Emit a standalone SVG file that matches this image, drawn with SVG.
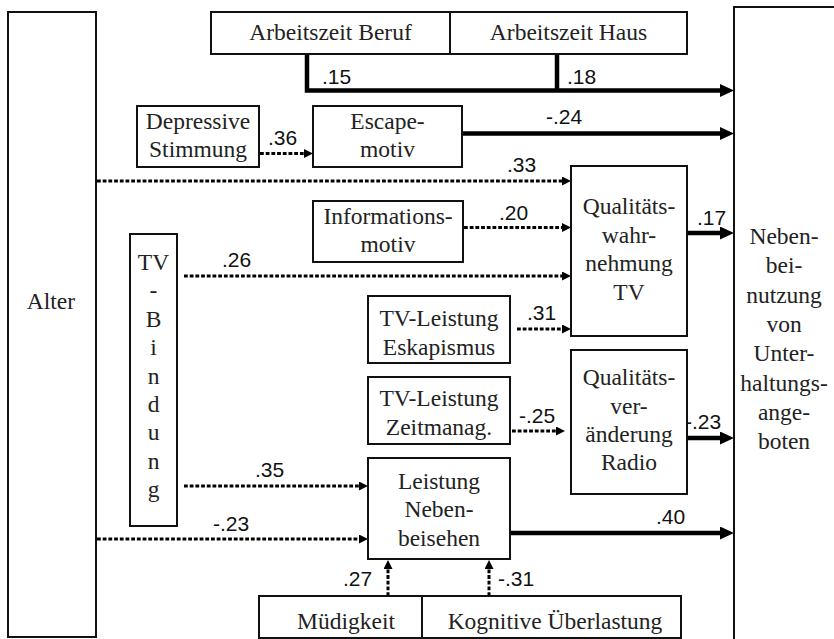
<svg xmlns="http://www.w3.org/2000/svg" width="834" height="639" viewBox="0 0 834 639">
<style>
.box{fill:#fff;stroke:#111;stroke-width:2}
.t{font-family:"Liberation Serif","Times New Roman",serif;font-size:23.5px;fill:#222;text-anchor:middle}
.n{font-family:"Liberation Sans",Arial,sans-serif;font-size:21px;fill:#111}
.thick{fill:none;stroke:#000;stroke-width:4.5;stroke-linejoin:miter}
.dot{fill:none;stroke:#000;stroke-width:3;stroke-dasharray:3.8 1.9}
</style>
<defs>
<marker id="ah" markerUnits="userSpaceOnUse" markerWidth="15" markerHeight="14" refX="1" refY="6.5" orient="auto"><path d="M0,0 L14,6.5 L0,13 z" fill="#000"/></marker>
<marker id="ad" markerUnits="userSpaceOnUse" markerWidth="10" markerHeight="10" refX="1" refY="4.5" orient="auto"><path d="M0,0 L9,4.5 L0,9 z" fill="#000"/></marker>
</defs>
<rect width="834" height="639" fill="#fff"/>

<g id="connectors">
<path class="thick" d="M307,54 V90.5 H721" marker-end="url(#ah)"/>
<path class="thick" d="M557,54 V90.5"/>
<path class="thick" d="M462,133.5 H721" marker-end="url(#ah)"/>
<path class="thick" d="M688,233 H721" marker-end="url(#ah)"/>
<path class="thick" d="M688,438 H721" marker-end="url(#ah)"/>
<path class="thick" d="M511,533 H721" marker-end="url(#ah)"/>
<path class="dot" d="M260,153.5 H305" marker-end="url(#ad)"/>
<path class="dot" d="M97,181 H563" marker-end="url(#ad)"/>
<path class="dot" d="M464,227.5 H563" marker-end="url(#ad)"/>
<path class="dot" d="M184,276 H563" marker-end="url(#ad)"/>
<path class="dot" d="M517,329 H563" marker-end="url(#ad)"/>
<path class="dot" d="M512,431 H557" marker-end="url(#ad)"/>
<path class="dot" d="M184,486 H360" marker-end="url(#ad)"/>
<path class="dot" d="M97,539 H360" marker-end="url(#ad)"/>
<path class="dot" d="M388,596 V568" marker-end="url(#ad)"/>
<path class="dot" d="M489,596 V568" marker-end="url(#ad)"/>
<text class="n" x="322" y="83.5">.15</text>
<text class="n" x="567" y="83.5">.18</text>
<text class="n" x="268" y="145">.36</text>
<text class="n" x="546" y="123.5">-.24</text>
<text class="n" x="507" y="172">.33</text>
<text class="n" x="499" y="219.5">.20</text>
<text class="n" x="222" y="266.5">.26</text>
<text class="n" x="527" y="320">.31</text>
<text class="n" x="519" y="423">-.25</text>
<text class="n" x="697" y="225">.17</text>
<rect x="685" y="412" width="41" height="19" fill="#fff"/>
<text class="n" x="685" y="428.5">-.23</text>
<text class="n" x="255" y="477">.35</text>
<text class="n" x="213" y="531">-.23</text>
<text class="n" x="656" y="523.5">.40</text>
<text class="n" x="343" y="585.5">.27</text>
<text class="n" x="498" y="585.5">-.31</text>
</g>

<g id="alter"><rect class="box" x="8" y="12" width="88" height="625"/><text class="t" x="51" y="309">Alter</text></g>
<g id="nebennutzung"><rect class="box" x="734" y="7" width="112" height="645"/>
<text class="t" x="784"><tspan x="784" y="244">Neben-</tspan><tspan x="784" y="273.3">bei-</tspan><tspan x="784" y="302.6">nutzung</tspan><tspan x="784" y="332">von</tspan><tspan x="784" y="361.2">Unter-</tspan><tspan x="784" y="390.5">haltungs-</tspan><tspan x="784" y="419.8">ange-</tspan><tspan x="784" y="449">boten</tspan></text></g>
<g id="arbeitszeit-beruf"><rect class="box" x="211" y="12" width="239" height="42"/><text class="t" x="330.5" y="39.5">Arbeitszeit Beruf</text></g>
<g id="arbeitszeit-haus"><rect class="box" x="450" y="12" width="237" height="42"/><text class="t" x="568.5" y="39.5">Arbeitszeit Haus</text></g>
<g id="depressive-stimmung"><rect class="box" x="137" y="106" width="122" height="61"/><text class="t"><tspan x="198" y="129">Depressive</tspan><tspan x="198" y="157">Stimmung</tspan></text></g>
<g id="escapemotiv"><rect class="box" x="313" y="106" width="149" height="61"/><text class="t"><tspan x="387.5" y="129">Escape-</tspan><tspan x="387.5" y="157">motiv</tspan></text></g>
<g id="informationsmotiv"><rect class="box" x="313" y="201" width="150" height="61"/><text class="t"><tspan x="388" y="223.5">Informations-</tspan><tspan x="388" y="252">motiv</tspan></text></g>
<g id="qualitaet-tv"><rect class="box" x="571" y="166" width="116" height="170"/><text class="t"><tspan x="629" y="214">Qualitäts-</tspan><tspan x="629" y="242.5">wahr-</tspan><tspan x="629" y="271">nehmung</tspan><tspan x="629" y="300">TV</tspan></text></g>
<g id="tv-bindung"><rect class="box" x="130" y="234" width="47" height="292"/><text class="t"><tspan x="153.5" y="270">TV</tspan><tspan x="153.5" y="298.4">-</tspan><tspan x="153.5" y="326.8">B</tspan><tspan x="153.5" y="355.2">i</tspan><tspan x="153.5" y="383.6">n</tspan><tspan x="153.5" y="412">d</tspan><tspan x="153.5" y="440.4">u</tspan><tspan x="153.5" y="468.8">n</tspan><tspan x="153.5" y="497.2">g</tspan></text></g>
<g id="tv-leistung-eskapismus"><rect class="box" x="368" y="296" width="142" height="67"/><text class="t"><tspan x="439" y="326">TV-Leistung</tspan><tspan x="439" y="354.5">Eskapismus</tspan></text></g>
<g id="tv-leistung-zeitmanag"><rect class="box" x="368" y="377" width="142" height="67"/><text class="t"><tspan x="439" y="406">TV-Leistung</tspan><tspan x="439" y="435">Zeitmanag.</tspan></text></g>
<g id="qualitaet-radio"><rect class="box" x="571" y="350" width="116" height="144"/><text class="t"><tspan x="629" y="385">Qualitäts-</tspan><tspan x="629" y="413.5">ver-</tspan><tspan x="629" y="441.5">änderung</tspan><tspan x="629" y="470">Radio</tspan></text></g>
<g id="leistung-nebenbeisehen"><rect class="box" x="368" y="458" width="142" height="101"/><text class="t"><tspan x="439" y="488.5">Leistung</tspan><tspan x="439" y="517">Neben-</tspan><tspan x="439" y="545.5">beisehen</tspan></text></g>
<g id="muedigkeit"><rect class="box" x="259" y="596" width="163" height="42"/><text class="t" x="346" y="628.5">Müdigkeit</text></g>
<g id="kognitive-ueberlastung"><rect class="box" x="422" y="596" width="259" height="42"/><text class="t" x="555" y="628.5">Kognitive Überlastung</text></g>
</svg>
